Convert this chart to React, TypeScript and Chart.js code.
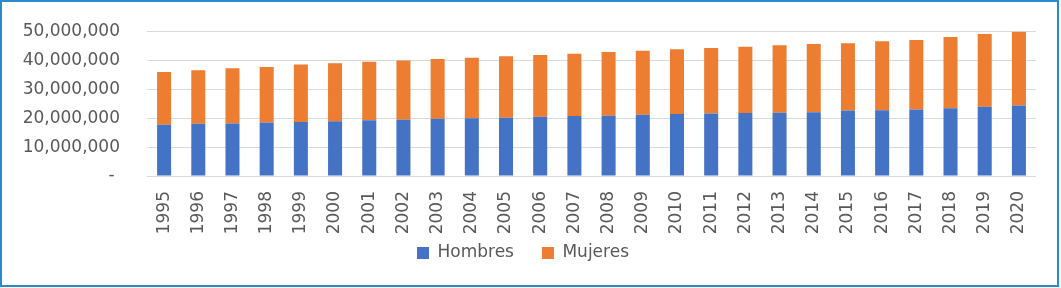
import React, { useEffect, useRef } from "react";
import { Chart, registerables } from "chart.js";

Chart.register(...registerables);

const years = [
  "1995", "1996", "1997", "1998", "1999", "2000", "2001", "2002", "2003",
  "2004", "2005", "2006", "2007", "2008", "2009", "2010", "2011", "2012",
  "2013", "2014", "2015", "2016", "2017", "2018", "2019", "2020",
];

const hombres = [
  17.74, 18.1, 18.2, 18.5, 18.7, 19.0, 19.35, 19.5, 19.8, 20.0, 20.2, 20.5,
  20.8, 20.9, 21.2, 21.5, 21.65, 21.8, 21.9, 22.1, 22.7, 22.8, 23.0, 23.5,
  24.0, 24.4,
].map((v) => v * 1e6);

const totales = [
  36.06, 36.6, 37.3, 37.8, 38.6, 39.1, 39.6, 40.0, 40.55, 41.0, 41.5, 41.9,
  42.4, 43.0, 43.4, 43.9, 44.35, 44.8, 45.3, 45.7, 46.0, 46.7, 47.1, 48.2,
  49.2, 50.1,
].map((v) => v * 1e6);

const mujeres = totales.map((t, i) => t - hombres[i]);

const yTicks = [0, 10000000, 20000000, 30000000, 40000000, 50000000];

const FONT = "'DejaVu Sans', sans-serif";
const TEXT = "#595959";

const legendShift = {
  id: "legendShift",
  afterLayout(chart: any) {
    const lg = chart.legend;
    if (!lg) return;
    lg.top -= 21.5;
    lg.bottom -= 21.5;
    lg.left += 5;
    lg.right += 5;
  },
};

export default function App() {
  const ref = useRef<HTMLCanvasElement | null>(null);

  useEffect(() => {
    document.body.style.margin = "0";
    const canvas = ref.current;
    if (!canvas) return;
    const chart = new Chart(canvas, {
      type: "bar",
      data: {
        labels: years,
        datasets: [
          {
            label: "Hombres",
            data: hombres,
            backgroundColor: "#4472C4",
            barPercentage: 0.41,
            categoryPercentage: 1,
          },
          {
            label: "Mujeres",
            data: mujeres,
            backgroundColor: "#ED7D31",
            barPercentage: 0.41,
            categoryPercentage: 1,
          },
        ],
      },
      plugins: [legendShift],
      options: {
        responsive: false,
        animation: false,
        events: [],
        layout: { padding: { top: 31.7, right: 25, bottom: -5, left: 0 } },
        plugins: {
          tooltip: { enabled: false },
          legend: {
            position: "bottom",
            labels: {
              boxWidth: 12,
              boxHeight: 12,
              padding: 28,
              color: TEXT,
              font: { family: FONT, size: 17 },
            },
          },
        },
        scales: {
          x: {
            stacked: true,
            grid: { display: false, drawTicks: false },
            border: { display: false },
            ticks: {
              autoSkip: false,
              minRotation: 90,
              maxRotation: 90,
              padding: 15,
              color: TEXT,
              font: { family: FONT, size: 17 },
            },
            afterFit: (s: any) => {
              s.height = 62;
            },
          },
          y: {
            stacked: true,
            min: 0,
            max: 50000000,
            afterBuildTicks: (s: any) => {
              s.ticks = yTicks.map((v) => ({ value: v }));
            },
            grid: { color: "#D9D9D9", lineWidth: 1, drawTicks: false },
            border: { display: false },
            ticks: {
              padding: 27,
              color: TEXT,
              font: { family: FONT, size: 17 },
              callback: (v: any) =>
                Number(v) === 0 ? "- " : Number(v).toLocaleString("en-US"),
            },
            afterFit: (s: any) => {
              s.width = 147;
              s.paddingTop = 10;
              s.paddingBottom = 10;
            },
          },
        },
      },
    });
    return () => chart.destroy();
  }, []);

  return (
    <div style={{ position: "relative", width: 1061, height: 288, background: "#fff" }}>
      <canvas ref={ref} width={1061} height={288} style={{ position: "absolute", left: 0, top: 0 }} />
      <div
        style={{
          position: "absolute",
          left: 0,
          top: 0,
          width: 1059,
          height: 287,
          boxSizing: "border-box",
          border: "2px solid #2B8ACB",
          pointerEvents: "none",
        }}
      />
    </div>
  );
}
